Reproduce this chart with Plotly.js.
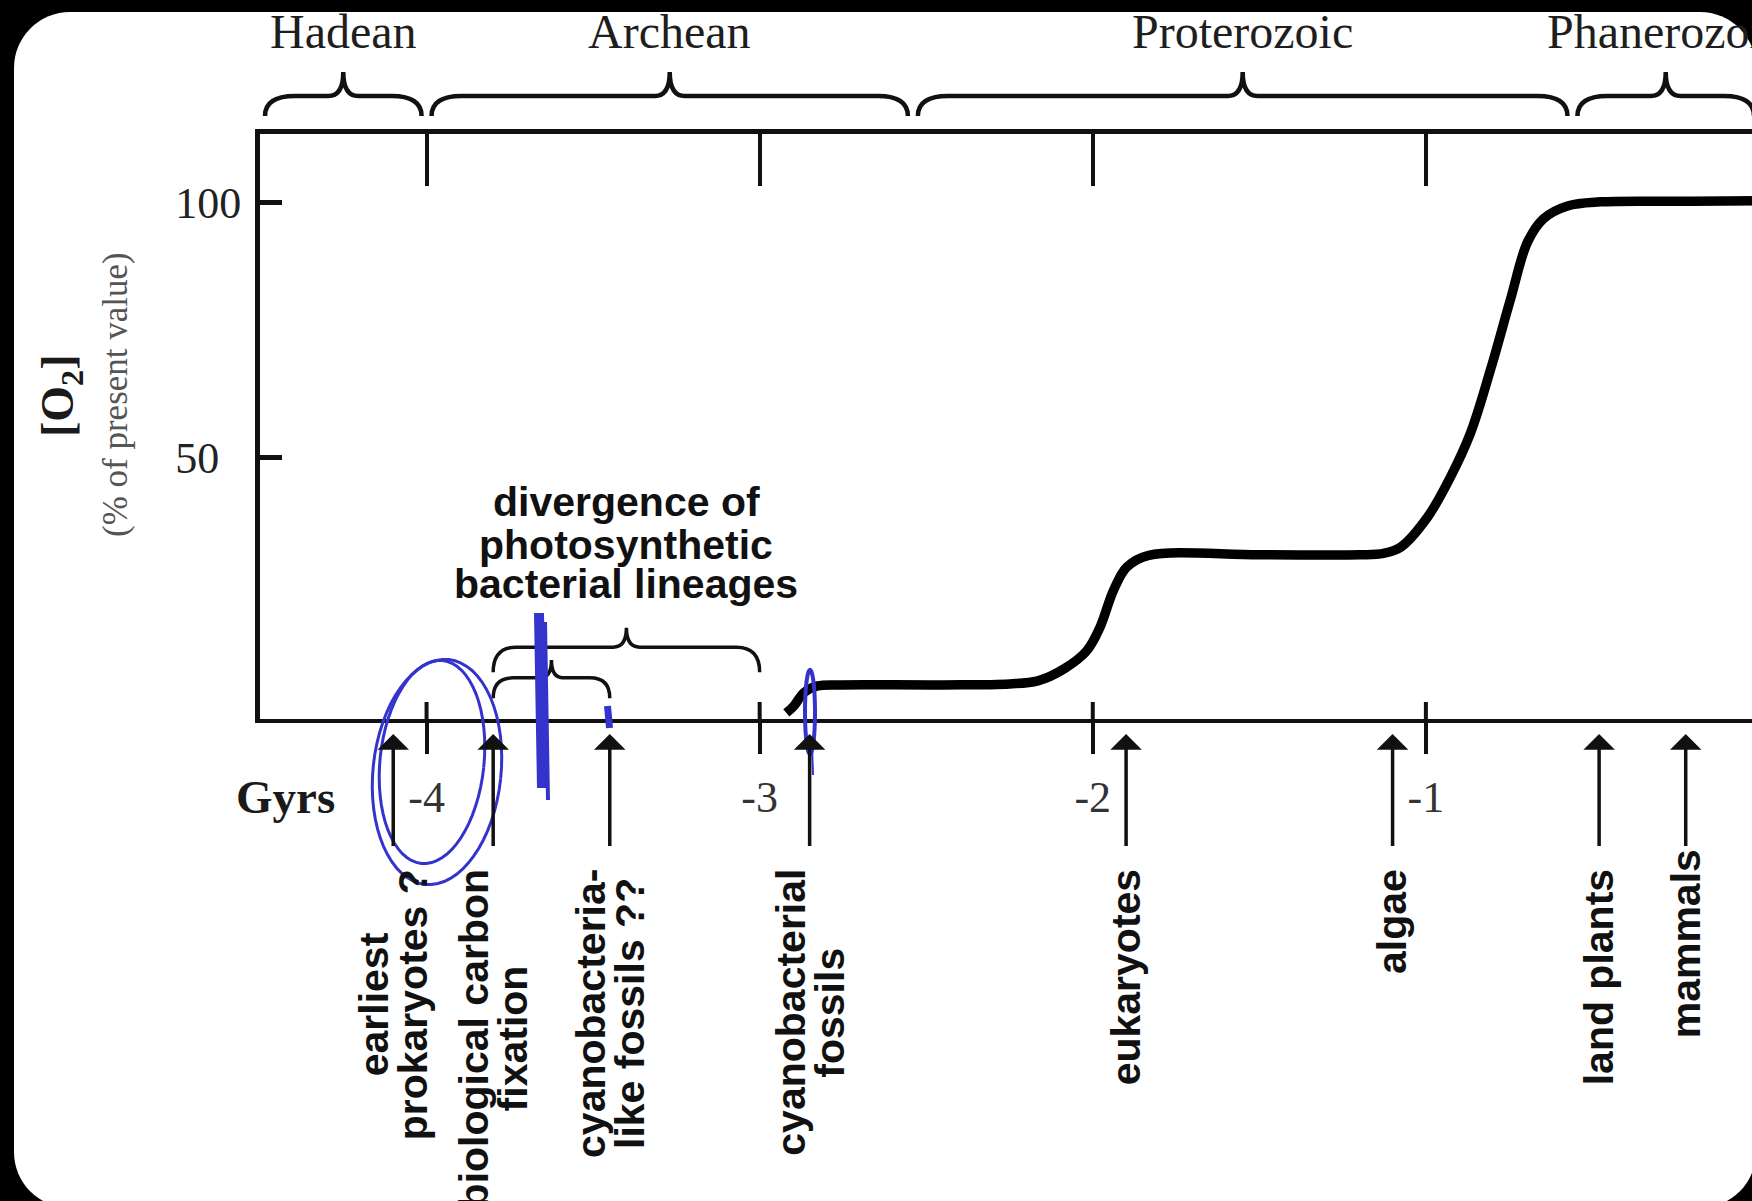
<!DOCTYPE html>
<html><head><meta charset="utf-8">
<script src="https://cdn.plot.ly/plotly-3.0.1.min.js"></script>
<style>
html,body{margin:0;padding:0;background:#000;overflow:hidden;width:1752px;height:1201px;}
#panel{position:absolute;left:14px;top:12px;width:1742px;height:1196px;background:#fff;border-radius:56px;}
#chart{position:absolute;left:0;top:0;width:1780px;height:1201px;}
</style></head><body>
<div id="panel"></div><div id="chart"></div>
<script>
// ---------------- data ----------------
const ageGyr = [-2.92, -2.897, -2.867, -2.826, -2.756, -2.45, -2.25, -2.165, -2.085, -2.018, -1.979, -1.938, -1.898, -1.832, -1.5, -1.2, -1.127, -1.076, -0.995, -0.926, -0.866, -0.806, -0.746, -0.695, -0.647, -0.575, -0.476, -0.2, 0];
const o2Percent = [0, 1.4, 4.0, 5.3, 5.5, 5.5, 5.7, 6.3, 8.7, 12.2, 16.7, 24.0, 28.6, 30.9, 31.0, 31.0, 31.3, 32.5, 38.4, 46.3, 54.9, 67.3, 81.1, 92.3, 96.9, 99.4, 100.2, 100.3, 100.4];
const xTickVals = [-4, -3, -2, -1];
const xTickLabels = ['-4', '-3', '-2', '-1'];
const yTickVals = [50, 100];
const yTickLabels = ['50', '100'];
const eraNames = ['Hadean', 'Archean', 'Proterozoic', 'Phanerozoic'];
const eraBounds = [-4.5, -4.0, -2.54, -0.56, 0];
const eventAges = [-4.1, -3.8, -3.45, -2.85, -1.9, -1.1, -0.48, -0.22];
const eventLabels = [['earliest', 'prokaryotes ?'], ['biological carbon', 'fixation'], ['cyanobacteria-', 'like fossils ??'], ['cyanobacterial', 'fossils'], ['eukaryotes'], ['algae'], ['land plants'], ['mammals']];
const divergenceSpans = [[-3.8, -3.0], [-3.8, -3.45]];
const divergenceText = ['divergence of', 'photosynthetic', 'bacterial lineages'];
const xRange = [-4.5, 0];
const yRange = [-1.18, 113.5];

// ---------------- layout geometry (pixels) ----------------
const W = 1780, H = 1201, L = 260, PR = 1759, T = 134, PB = 719;
const PW = PR - L, PH = PB - T;
const py2p = py => (PB - py) / PH;          // pixel y -> paper y
const px2p = px => (px - L) / PW;           // pixel x -> paper x
const labelTop = [869, 869, 869, 869, 869, 869, 869, 849];

const serif = 'Liberation Serif, Times New Roman, serif';
const sans = 'Liberation Sans, Arial, Helvetica, sans-serif';
const ink = '#111';

function bracePath(x0, x1, yEnd, yBody, yTip, rEnd, rTip) {
  const xm = (x0 + x1) / 2;
  return `M${x0},${yEnd} Q${x0},${yBody} ${x0 + rEnd},${yBody} L${xm - rTip},${yBody} ` +
         `Q${xm},${yBody} ${xm},${yTip} Q${xm},${yBody} ${xm + rTip},${yBody} ` +
         `L${x1 - rEnd},${yBody} Q${x1},${yBody} ${x1},${yEnd}`;
}

const shapes = [];
// era braces above the frame
for (let i = 0; i < eraNames.length; i++) {
  const a = eraBounds[i] + 0.015, b = eraBounds[i + 1] - 0.015;
  const r = Math.min(0.09, (b - a) / 5);
  shapes.push({type: 'path', xref: 'x', yref: 'paper', layer: 'above',
    path: bracePath(a, b, py2p(116), py2p(96), py2p(72), r, 0.045),
    line: {color: ink, width: 4.5}});
}
// divergence braces (data y)
shapes.push({type: 'path', xref: 'x', yref: 'y', path: bracePath(divergenceSpans[0][0], divergenceSpans[0][1], 8.0, 12.9, 16.7, 0.07, 0.04), line: {color: ink, width: 3.5}});
shapes.push({type: 'path', xref: 'x', yref: 'y', path: bracePath(divergenceSpans[1][0], divergenceSpans[1][1], 2.9, 6.9, 10.4, 0.06, 0.035), line: {color: ink, width: 3.5}});
// upper part of the crossing ticks on the bottom axis
xTickVals.forEach(v => shapes.push({type: 'line', xref: 'x', yref: 'paper', x0: v, x1: v, y0: py2p(721), y1: py2p(702), line: {color: ink, width: 4}}));

// ---------------- hand-drawn blue ink ----------------
const blue = 'rgb(52,52,205)';
function ellipse(cx, cy, rx, ry, rotDeg) {
  const th = rotDeg * Math.PI / 180; let d = '';
  for (let k = 0; k <= 64; k++) {
    const t = k / 64 * 2 * Math.PI;
    const x = cx + rx * Math.cos(t) * Math.cos(th) - ry * Math.sin(t) * Math.sin(th);
    const y = cy + rx * Math.cos(t) * Math.sin(th) + ry * Math.sin(t) * Math.cos(th);
    d += (k ? 'L' : 'M') + px2p(x).toFixed(5) + ',' + py2p(y).toFixed(5);
  }
  return d;
}
shapes.push({type: 'path', xref: 'paper', yref: 'paper', layer: 'above', path: ellipse(437, 772, 64, 113, 6), line: {color: blue, width: 3}});
shapes.push({type: 'path', xref: 'paper', yref: 'paper', layer: 'above', path: ellipse(432, 762, 52, 102, 6), line: {color: blue, width: 3}});
shapes.push({type: 'path', xref: 'paper', yref: 'paper', layer: 'above', path: ellipse(810, 712, 5, 42, 0), line: {color: blue, width: 4}});
function seg(x0, y0, x1, y1, w) {
  shapes.push({type: 'line', xref: 'paper', yref: 'paper', layer: 'above', x0: px2p(x0), y0: py2p(y0), x1: px2p(x1), y1: py2p(y1), line: {color: blue, width: w}});
}
seg(539, 613, 542, 788, 10);
seg(545, 622, 548, 800, 4);
seg(607.5, 706, 609.5, 728, 7);
seg(812, 745, 813, 775, 2);

// ---------------- annotations ----------------
const annotations = [];
const measure = (() => { const c = document.createElement('canvas').getContext('2d'); c.font = 'bold 41px "Liberation Sans"'; return s => c.measureText(s).width; })();

eraNames.forEach((n, i) => annotations.push({text: n, xref: 'x', yref: 'paper', x: (eraBounds[i] + eraBounds[i + 1]) / 2, y: py2p(32), xanchor: 'center', yanchor: 'middle', showarrow: false, font: {family: serif, size: 48, color: '#1e1e1e'}}));

// arrows and rotated labels
eventAges.forEach((a, i) => {
  annotations.push({text: ' ', xref: 'x', yref: 'paper', x: a, y: py2p(734), ax: 0, ay: 122, showarrow: true, arrowhead: 1, arrowsize: 1.5, arrowwidth: 3.5, arrowcolor: ink, standoff: 0});
  const lines = eventLabels[i];
  const maxW = Math.max(...lines.map(measure));
  const cy = labelTop[i] + maxW / 2;
  lines.forEach((s, j) => annotations.push({text: s, xref: 'x', yref: 'paper', x: a, y: py2p(cy), xshift: (j - (lines.length - 1) / 2) * 39, xanchor: 'center', yanchor: 'middle', textangle: -90, showarrow: false, font: {family: sans, size: 41, color: ink, weight: 'bold'}}));
});

// divergence text
const divY = [502, 545, 584];
divergenceText.forEach((s, j) => annotations.push({text: s, xref: 'x', yref: 'paper', x: (divergenceSpans[0][0] + divergenceSpans[0][1]) / 2, y: py2p(divY[j]), xanchor: 'center', yanchor: 'middle', showarrow: false, font: {family: sans, size: 41, color: ink, weight: 'bold'}}));

// axis titles
annotations.push({text: '[O<sub>2</sub>]', xref: 'paper', yref: 'paper', x: px2p(61), y: py2p(396), xanchor: 'center', yanchor: 'middle', textangle: -90, showarrow: false, font: {family: serif, size: 46, color: '#1a1a1a', weight: 'bold'}});
annotations.push({text: '(% of present value)', xref: 'paper', yref: 'paper', x: px2p(115), y: py2p(395), xanchor: 'center', yanchor: 'middle', textangle: -90, showarrow: false, font: {family: serif, size: 35, color: '#555'}});
annotations.push({text: 'Gyrs', xref: 'paper', yref: 'paper', x: px2p(285), y: py2p(797), xanchor: 'center', yanchor: 'middle', showarrow: false, font: {family: serif, size: 47, color: '#1a1a1a', weight: 'bold'}});

const traces = [
  {x: ageGyr, y: o2Percent, type: 'scatter', mode: 'lines', line: {color: '#000', width: 9.5, shape: 'spline', smoothing: 1}, hoverinfo: 'skip', cliponaxis: false},
  {x: [xRange[0]], y: [0], xaxis: 'x2', type: 'scatter', mode: 'markers', marker: {opacity: 0}, hoverinfo: 'skip'}
];

const axisBase = {showgrid: false, zeroline: false, fixedrange: true, linecolor: ink, tickcolor: ink};
const layout = {
  width: W, height: H, margin: {l: L, r: W - PR, t: T, b: H - PB, pad: 0},
  paper_bgcolor: 'rgba(0,0,0,0)', plot_bgcolor: 'rgba(0,0,0,0)', showlegend: false,
  xaxis: Object.assign({}, axisBase, {range: xRange, tickvals: xTickVals, ticktext: xTickLabels, ticks: 'outside', ticklen: 31, tickwidth: 4, showline: true, linewidth: 4, tickfont: {family: serif, size: 44, color: '#333'}, ticklabelstandoff: 5}),
  xaxis2: Object.assign({}, axisBase, {overlaying: 'x', side: 'top', range: xRange, tickvals: xTickVals, ticks: 'inside', ticklen: 52, tickwidth: 4, showticklabels: false, showline: true, linewidth: 5}),
  yaxis: Object.assign({}, axisBase, {range: yRange, tickvals: yTickVals, ticktext: yTickLabels.map(s => s.length < 3 ? s + '\u2002' : s), ticks: 'inside', ticklen: 22, tickwidth: 5, showline: true, linewidth: 5, tickfont: {family: serif, size: 44, color: '#222'}, ticklabelstandoff: 5}),
  shapes: shapes, annotations: annotations
};
Plotly.newPlot('chart', traces, layout, {staticPlot: true, displayModeBar: false});
</script>
</body></html>
